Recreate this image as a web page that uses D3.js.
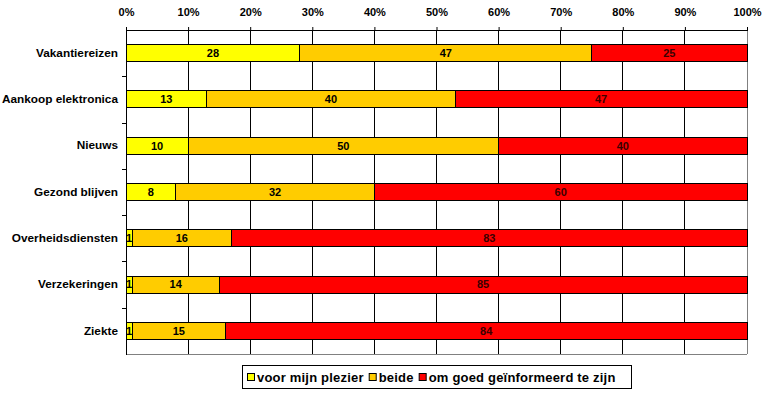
<!DOCTYPE html>
<html><head><meta charset="utf-8">
<script src="https://cdn.jsdelivr.net/npm/d3@7"></script>
<style>body{margin:0;background:#fff}svg{display:block}text{font-family:"Liberation Sans",Arial,sans-serif;font-weight:bold}</style>
</head><body><svg id="c" width="766" height="394"></svg>
<script>
const categories = ["Vakantiereizen","Aankoop elektronica","Nieuws","Gezond blijven","Overheidsdiensten","Verzekeringen","Ziekte"];
const plezier = [28,13,10,8,1,1,1];
const beide = [47,40,50,32,16,14,15];
const geinformeerd = [25,47,40,60,83,85,84];
const seriesNames = ["voor mijn plezier","beide","om goed geïnformeerd te zijn"];
const seriesColors = ["#FFFF00","#FFCC00","#FF0000"];
const tickValues = [0,10,20,30,40,50,60,70,80,90,100];

const svg = d3.select("#c");
const m = {l:126, r:747, t:30, b:354};
const x = d3.scaleLinear().domain([0,100]).range([m.l, m.r]);
const y = d3.scaleBand().domain(categories).range([m.t, m.b]).paddingInner(0.63).paddingOuter(0.315);

// gridlines
svg.append("g").selectAll("line").data(tickValues.slice(1,-1)).join("line")
  .attr("x1",d=>x(d)).attr("x2",d=>x(d)).attr("y1",m.t).attr("y2",m.b)
  .attr("stroke","#000").attr("stroke-width",1).attr("shape-rendering","crispEdges");
// right & bottom border
svg.append("line").attr("x1",m.r).attr("x2",m.r).attr("y1",m.t).attr("y2",m.b).attr("stroke","#808080").attr("shape-rendering","crispEdges");
svg.append("line").attr("x1",m.l).attr("x2",m.r).attr("y1",m.b).attr("y2",m.b).attr("stroke","#808080").attr("shape-rendering","crispEdges");

const data = categories.map((c,i)=>({cat:c, vals:[plezier[i],beide[i],geinformeerd[i]]}));
const segs = [];
data.forEach(d=>{let acc=0; d.vals.forEach((v,k)=>{segs.push({cat:d.cat,k,x0:acc,x1:acc+v,v}); acc+=v;});});

svg.append("g").selectAll("rect").data(segs).join("rect")
  .attr("x",d=>x(d.x0)).attr("width",d=>x(d.x1)-x(d.x0))
  .attr("y",d=>y(d.cat)).attr("height",y.bandwidth())
  .attr("fill",d=>seriesColors[d.k]).attr("stroke","#000").attr("stroke-width",1)
  .attr("shape-rendering","crispEdges");

svg.append("g").selectAll("text").data(segs).join("text")
  .attr("x",d=>(x(d.x0)+x(d.x1))/2).attr("y",d=>y(d.cat)+y.bandwidth()/2)
  .attr("dy","0.35em").attr("text-anchor","middle").attr("font-size",11)
  .attr("fill",d=>d.k===2?"#3a0000":"#000").text(d=>d.v);

// top axis
const ax = d3.axisTop(x).tickValues(tickValues).tickFormat(d=>d+"%").tickSize(3).tickPadding(11);
const gx = svg.append("g").attr("transform",`translate(0,${m.t})`).call(ax);
gx.select(".domain").attr("stroke","#000").attr("shape-rendering","crispEdges");
gx.selectAll(".tick line").attr("stroke","#000");
gx.selectAll("text").attr("font-size",11).attr("font-family","Liberation Sans, Arial").attr("font-weight","bold").attr("fill","#000");

// left axis
const ay = d3.axisLeft(y).tickSize(0).tickPadding(8);
const gy = svg.append("g").attr("transform",`translate(${m.l},0)`).call(ay);
gy.select(".domain").attr("stroke","#000").attr("shape-rendering","crispEdges");
gy.selectAll("text").attr("font-size",11.8).attr("font-family","Liberation Sans, Arial").attr("font-weight","bold").attr("fill","#000");
// tick marks between categories
const bounds = categories.slice(1).map(c=>y(c)-y.step()*y.paddingInner()/2);
svg.append("g").selectAll("line").data(bounds).join("line")
  .attr("x1",m.l-4).attr("x2",m.l).attr("y1",d=>Math.round(d)+0.5).attr("y2",d=>Math.round(d)+0.5).attr("stroke","#000");

// legend
const lg = svg.append("g");
lg.append("rect").attr("x",242.5).attr("y",365.5).attr("width",389).attr("height",23).attr("fill","#fff").attr("stroke","#000");
let lx = 247;
seriesNames.forEach((n,i)=>{
  lg.append("rect").attr("x",lx+0.5).attr("y",373.5).attr("width",7).attr("height",7).attr("fill",seriesColors[i]).attr("stroke","#000");
  const t = lg.append("text").attr("x",lx+10).attr("y",377).attr("dy","0.36em").attr("font-size",13).attr("letter-spacing",0.2).text(n);
  lx += 10 + t.node().getComputedTextLength() + 5;
});
</script></body></html>
